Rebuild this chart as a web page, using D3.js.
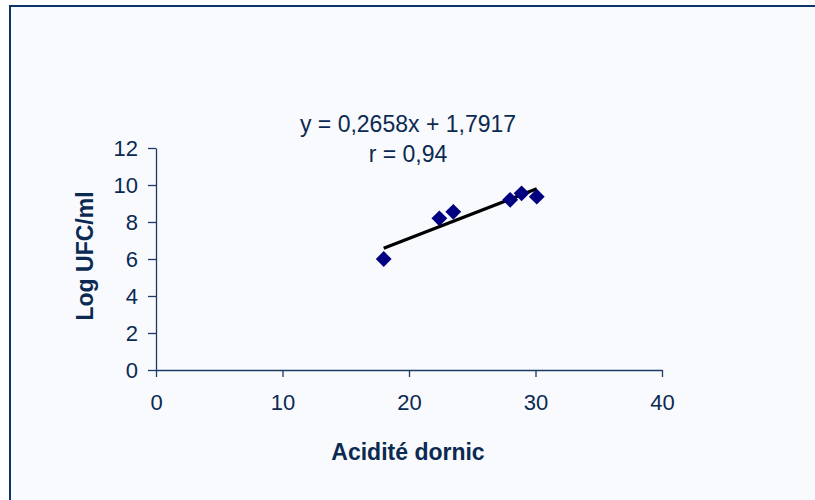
<!DOCTYPE html>
<html>
<head>
<meta charset="utf-8">
<script src="https://cdn.jsdelivr.net/npm/d3@7"></script>
<style>
  html, body { margin: 0; padding: 0; background: #ffffff; }
  svg { display: block; font-family: "Liberation Sans", Arial, sans-serif; }
</style>
</head>
<body>
<svg id="chart" width="815" height="500"></svg>
<script>
// data
const acidity = [18, 22.4, 23.5, 28, 28.9, 30.1];
const logUfc = [6.0, 8.2, 8.55, 9.2, 9.55, 9.37];
const xTicks = [0, 10, 20, 30, 40];
const yTicks = [0, 2, 4, 6, 8, 10, 12];
const slope = 0.2658, intercept = 1.7917;
const eqLines = ['y = 0,2658x + 1,7917', 'r = 0,94'];

const ink = '#0b2a52';
const axisCol = '#1b3a66';

const svg = d3.select('#chart');

// chart frame
svg.append('rect')
    .attr('x', 10).attr('y', 6)
    .attr('width', 815).attr('height', 510)
    .attr('fill', '#f9fafd')
    .attr('stroke', '#0d3466')
    .attr('stroke-width', 2);

const x = d3.scaleLinear().domain([0, 40]).range([156, 662]);
const y = d3.scaleLinear().domain([0, 12]).range([370, 148]);

// axes
const xAxis = svg.append('g')
    .attr('transform', `translate(0,${y(0)})`)
    .call(d3.axisBottom(x).tickValues(xTicks).tickSize(7).tickPadding(17).tickSizeOuter(0));
const yAxis = svg.append('g')
    .attr('transform', `translate(${x(0)},0)`)
    .call(d3.axisLeft(y).tickValues(yTicks).tickSize(8).tickPadding(10).tickSizeOuter(0));

[xAxis, yAxis].forEach(g => {
    g.select('.domain').attr('stroke', axisCol).attr('stroke-width', 1.3);
    g.selectAll('.tick line').attr('stroke', axisCol).attr('stroke-width', 1.3);
    g.selectAll('.tick text')
        .attr('fill', ink)
        .style('font-size', '22px')
        .style('font-family', '"Liberation Sans", Arial, sans-serif');
});

// trendline over the data range
const xr = d3.extent(acidity);
svg.append('line')
    .attr('x1', x(xr[0])).attr('y1', y(slope * xr[0] + intercept))
    .attr('x2', x(xr[1])).attr('y2', y(slope * xr[1] + intercept))
    .attr('stroke', '#000')
    .attr('stroke-width', 3.2);

// points as diamonds
svg.append('g').selectAll('path')
    .data(acidity.map((a, i) => [a, logUfc[i]]))
    .join('path')
    .attr('d', d3.symbol(d3.symbolSquare, 125))
    .attr('transform', d => `translate(${x(d[0])},${y(d[1])}) rotate(45)`)
    .attr('fill', '#000080');

// equation label
svg.append('text')
    .attr('x', 408).attr('y', 132)
    .attr('text-anchor', 'middle')
    .attr('fill', ink)
    .style('font-size', '23px')
    .selectAll('tspan')
    .data(eqLines)
    .join('tspan')
    .attr('x', 408)
    .attr('dy', (d, i) => i ? 30 : 0)
    .text(d => d);

// axis titles
svg.append('text')
    .attr('x', 408).attr('y', 460)
    .attr('text-anchor', 'middle')
    .attr('fill', ink)
    .style('font-size', '23px')
    .style('font-weight', 'bold')
    .text('Acidité dornic');

svg.append('text')
    .attr('transform', 'translate(93,256) rotate(-90)')
    .attr('text-anchor', 'middle')
    .attr('fill', ink)
    .style('font-size', '23px')
    .style('font-weight', 'bold')
    .text('Log UFC/ml');
</script>
</body>
</html>
